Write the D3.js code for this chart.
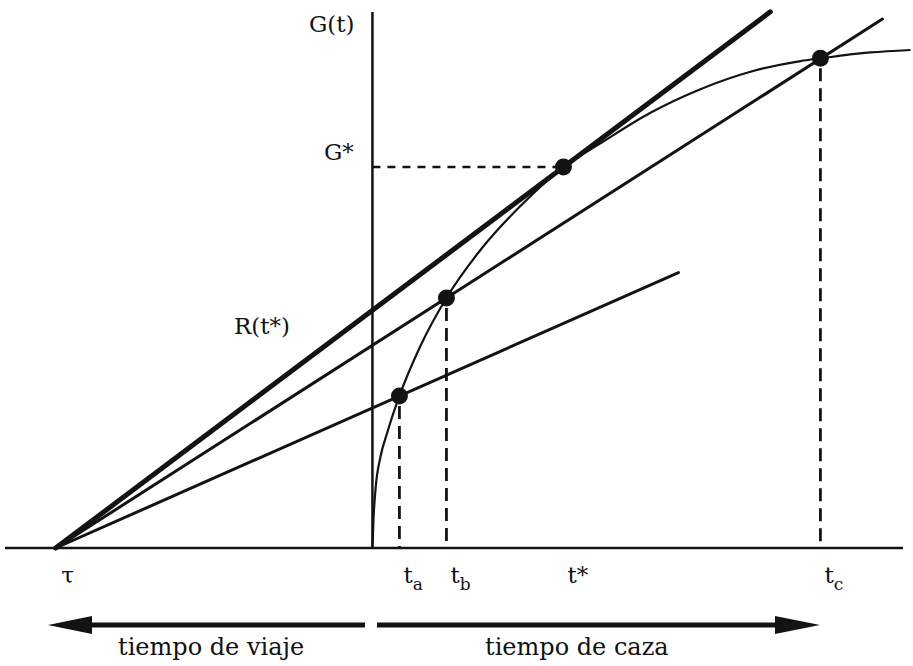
<!DOCTYPE html>
<html><head><meta charset="utf-8">
<script src="https://cdn.jsdelivr.net/npm/d3@7"></script>
<style>
html,body{margin:0;padding:0;background:#fff;}
text{font-family:"DejaVu Serif",serif;fill:#111;}
</style></head>
<body>
<svg id="chart" width="913" height="666"></svg>
<script>
// ---- data ----
const tau = -10;
// gain curve G(t)
const curveT = [0, 0.032, 0.095, 0.253, 0.474, 0.852, 1.515, 2.336, 3.41, 4.672, 6.03, 7.198, 8.776, 10.355, 11.933, 13.512, 14.143, 15.722, 16.985];
const curveG = [0, 5.22, 10.82, 16.98, 21.64, 28.36, 37.69, 46.64, 55.60, 63.81, 71.08, 75.5, 81.2, 85.6, 88.85, 90.85, 91.35, 92.45, 92.91];
// marked points on the curve
const pointNames = ["ta", "tb", "tStar", "tc"];
const pointT = [0.852, 2.336, 6.03, 14.143];
const pointG = [28.36, 46.64, 71.08, 91.35];
// which points get a vertical dashed drop line
const dropLines = ["ta", "tb", "tc"];
// rate lines from tau through a point, ending at endT
const lineThrough = ["ta", "tb", "tStar"];
const lineEndT = [9.66, 16.1, 12.56];
const lineWidth = [3, 3, 5];
// tick labels
const tickLabels = [
  {t: tau, main: "τ", sub: ""},
  {t: 0.852, main: "t", sub: "a"},
  {t: 2.336, main: "t", sub: "b"},
  {t: 6.03, main: "t*", sub: ""},
  {t: 14.143, main: "t", sub: "c"}
];

// ---- scales ----
const svg = d3.select("#chart");
const x = d3.scaleLinear().domain([-11.6, 16.75]).range([5, 903]);
const y = d3.scaleLinear().domain([0, 100]).range([548, 12]);
const ink = "#131313";

// axes
svg.append("line").attr("x1", x(-11.6)).attr("x2", x(16.75)).attr("y1", y(0)).attr("y2", y(0))
  .attr("stroke", ink).attr("stroke-width", 2.5);
svg.append("line").attr("x1", x(0)).attr("x2", x(0)).attr("y1", y(0)).attr("y2", y(100))
  .attr("stroke", ink).attr("stroke-width", 2.5);

const pt = {};
pointNames.forEach((n, i) => pt[n] = {t: pointT[i], g: pointG[i]});

// dashed guides
dropLines.forEach(n => {
  svg.append("line").attr("x1", x(pt[n].t)).attr("x2", x(pt[n].t))
    .attr("y1", y(pt[n].g) + 10).attr("y2", y(0))
    .attr("stroke", ink).attr("stroke-width", 2.8).attr("stroke-dasharray", "13,7");
});
svg.append("line").attr("x1", x(0)).attr("x2", x(pt.tStar.t)).attr("y1", y(pt.tStar.g)).attr("y2", y(pt.tStar.g))
  .attr("stroke", ink).attr("stroke-width", 2.5).attr("stroke-dasharray", "8,7");

// rate lines
lineThrough.forEach((n, i) => {
  const slope = pt[n].g / (pt[n].t - tau);
  const te = lineEndT[i];
  svg.append("line").attr("x1", x(tau)).attr("y1", y(0))
    .attr("x2", x(te)).attr("y2", y(slope * (te - tau)))
    .attr("stroke", ink).attr("stroke-width", lineWidth[i]).attr("stroke-linecap", "round");
});

// gain curve
const curveData = curveT.map((t, i) => [t, curveG[i]]);
svg.append("path").datum(curveData)
  .attr("d", d3.line().x(d => x(d[0])).y(d => y(d[1])).curve(d3.curveMonotoneX))
  .attr("fill", "none").attr("stroke", ink).attr("stroke-width", 2.2);

// dots
pointNames.forEach(n => {
  svg.append("circle").attr("cx", x(pt[n].t)).attr("cy", y(pt[n].g)).attr("r", 8.5).attr("fill", ink);
});

// axis labels
svg.append("text").attr("x", 309).attr("y", 32).attr("font-size", 23).text("G(t)");
svg.append("text").attr("x", 324).attr("y", 160).attr("font-size", 23).text("G*");
svg.append("text").attr("x", 234).attr("y", 334).attr("font-size", 23).text("R(t*)");

tickLabels.forEach(d => {
  const tx = svg.append("text").attr("x", x(d.t) + (d.main === "τ" ? 12 : 4)).attr("y", 583).attr("font-size", 23)
    .attr("text-anchor", d.main === "τ" ? "middle" : "start");
  tx.append("tspan").text(d.main);
  if (d.sub) tx.append("tspan").attr("dy", 7).attr("font-size", 17).text(d.sub);
});

// bottom arrows
const arrowY = 625;
svg.append("line").attr("x1", 365).attr("x2", 88).attr("y1", arrowY).attr("y2", arrowY).attr("stroke", ink).attr("stroke-width", 5);
svg.append("path").attr("d", `M48,${arrowY} L92,${arrowY - 9} L92,${arrowY + 9} Z`).attr("fill", ink);
svg.append("line").attr("x1", 377).attr("x2", 778).attr("y1", arrowY).attr("y2", arrowY).attr("stroke", ink).attr("stroke-width", 5);
svg.append("path").attr("d", `M820,${arrowY} L775,${arrowY - 9} L775,${arrowY + 9} Z`).attr("fill", ink);

svg.append("text").attr("x", 118).attr("y", 655).attr("font-size", 24).text("tiempo de viaje");
svg.append("text").attr("x", 485).attr("y", 655).attr("font-size", 24).text("tiempo de caza");
</script>
</body></html>
